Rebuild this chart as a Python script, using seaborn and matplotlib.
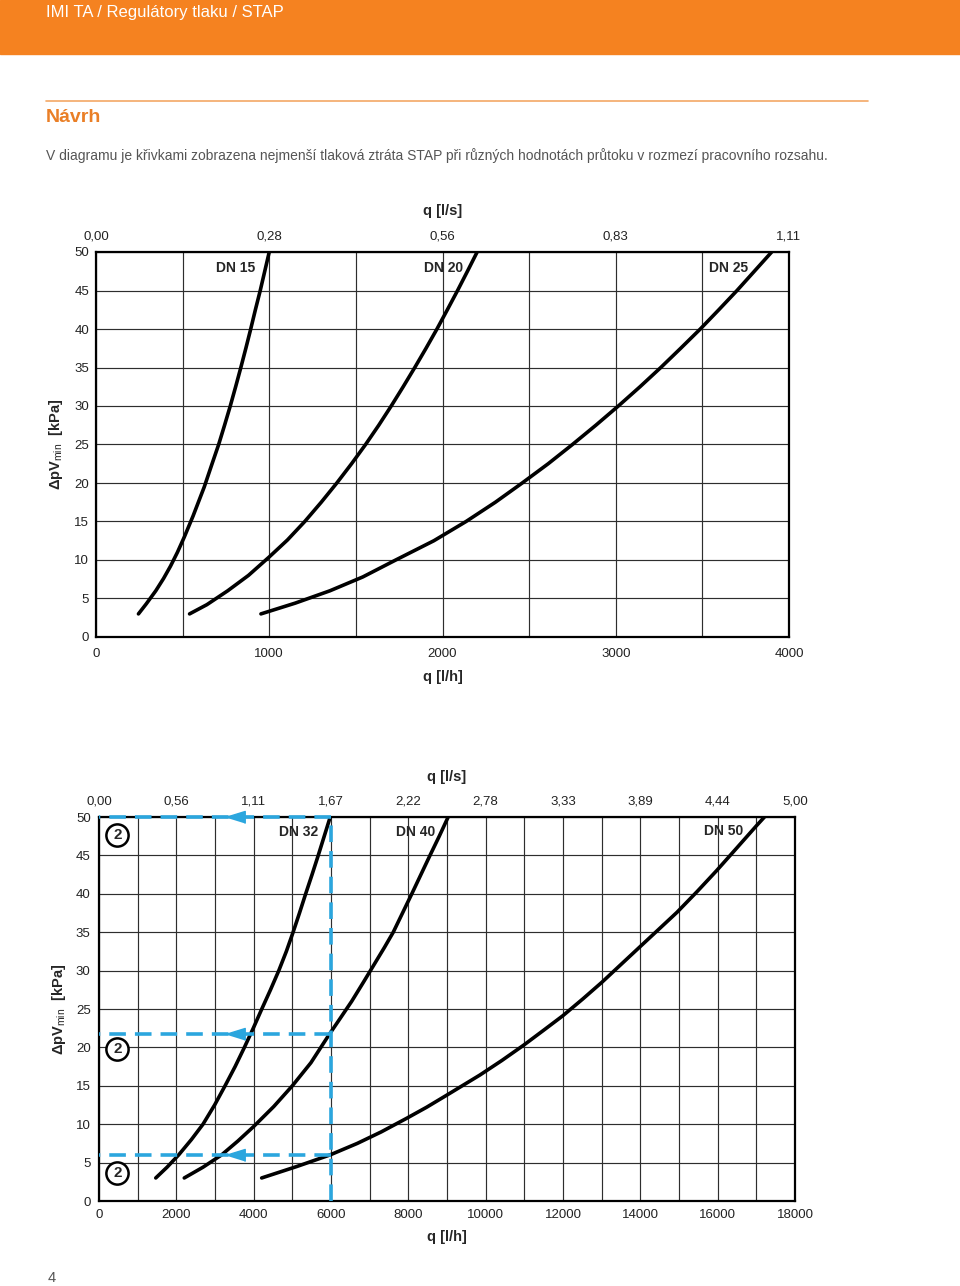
import pandas as pd
import matplotlib.pyplot as plt
import seaborn as sns
from matplotlib.patches import Rectangle
from matplotlib.lines import Line2D
from matplotlib.ticker import MultipleLocator

# Chart 1: STAP DN 15 - DN 25 (q in l/h, dp in kPa)
dn15_q = [245, 290, 345, 390, 430, 470, 510, 560, 625, 670, 708, 742, 775, 806, 836, 865, 893, 920, 948, 974, 1000]
dn15_dp = [3, 4.3, 6, 7.6, 9.2, 11, 13, 15.7, 19.5, 22.5, 25, 27.5, 30, 32.5, 35, 37.5, 40, 42.5, 45, 47.5, 50]
dn20_q = [540, 640, 760, 880, 1000, 1105, 1205, 1300, 1390, 1475, 1556, 1632, 1704, 1773, 1840, 1905, 1968, 2028, 2087, 2144, 2200]
dn20_dp = [3, 4.2, 6, 8, 10.4, 12.6, 15, 17.5, 20, 22.5, 25, 27.5, 30, 32.5, 35, 37.5, 40, 42.5, 45, 47.5, 50]
dn25_q = [952, 1150, 1350, 1540, 1730, 1950, 2136, 2305, 2460, 2610, 2750, 2885, 3015, 3140, 3260, 3375, 3488, 3595, 3700, 3800, 3900]
dn25_dp = [3, 4.4, 6, 7.8, 10, 12.5, 15, 17.5, 20, 22.5, 25, 27.5, 30, 32.5, 35, 37.5, 40, 42.5, 45, 47.5, 50]

# Chart 2: STAP DN 32 - DN 50
dn32_q = [1468, 1760, 2060, 2390, 2690, 2990, 3260, 3520, 3760, 3990, 4210, 4435, 4650, 4845, 5020, 5185, 5345, 5510, 5670, 5825, 5980]
dn32_dp = [3, 4.4, 6, 8, 10, 12.5, 15, 17.5, 20, 22.5, 25, 27.5, 30, 32.5, 35, 37.5, 40, 42.5, 45, 47.5, 50]
dn40_q = [2205, 2690, 3170, 3590, 4000, 4520, 5000, 5480, 5930, 6240, 6535, 6840, 7140, 7380, 7610, 7850, 8090, 8325, 8560, 8800, 9030]
dn40_dp = [3, 4.4, 6, 7.8, 9.7, 12.3, 15, 18, 21.5, 23.8, 26, 28.5, 31, 33, 35, 37.5, 40, 42.5, 45, 47.5, 50]
dn50_q = [4207, 5120, 5975, 6680, 7300, 7950, 8470, 9000, 9850, 10420, 10985, 11490, 11990, 12510, 13010, 13500, 13990, 14460, 14950, 15470, 15970, 16500, 17010, 17210]
dn50_dp = [3, 4.5, 6, 7.5, 9, 10.75, 12.2, 13.8, 16.4, 18.3, 20.3, 22.2, 24.1, 26.3, 28.5, 30.8, 33.1, 35.3, 37.6, 40.3, 43, 46, 48.9, 50]

# tick labels
yticks = [0, 5, 10, 15, 20, 25, 30, 35, 40, 45, 50]
xticks_1 = [0, 1000, 2000, 3000, 4000]
top_labels_1 = ["0,00", "0,28", "0,56", "0,83", "1,11"]
xticks_2 = [0, 2000, 4000, 6000, 8000, 10000, 12000, 14000, 16000, 18000]
top_labels_2 = ["0,00", "0,56", "1,11", "1,67", "2,22", "2,78", "3,33", "3,89", "4,44", "5,00"]

# example reading in chart 2 (blue guide lines)
guide_q = 6000
guide_dp = [50, 21.8, 6]
arrow_q = 3520
marker_q = 473
marker_dp = [47.7, 19.85, 3.7]

ORANGE = "#f58220"
BLUE = "#2ba6de"
GRID = "#2e2e2e"

sns.set_theme(style="white")
plt.rcParams["font.family"] = ["Liberation Sans", "DejaVu Sans"]
plt.rcParams["mathtext.fontset"] = "custom"
plt.rcParams["mathtext.rm"] = "Liberation Sans"
plt.rcParams["mathtext.bf"] = "Liberation Sans:bold"
plt.rcParams["mathtext.it"] = "Liberation Sans:italic"

W, H = 960, 1286
fig = plt.figure(figsize=(W / 100, H / 100), dpi=100)


def fx(px):
    return px / W


def fy(py):
    return 1 - py / H


# header
fig.patches.append(Rectangle((0, fy(54)), 1, 54 / H, transform=fig.transFigure,
                             color=ORANGE, zorder=0))
fig.text(fx(46), fy(12), "IMI TA / Regulátory tlaku / STAP", color="white",
         fontsize=12, va="center", ha="left")
fig.lines.append(Line2D([fx(46), fx(868)], [fy(101), fy(101)], transform=fig.transFigure,
                        color="#f3a866", lw=1.2))
fig.text(fx(46), fy(118), "Návrh", color="#ea7f26", fontsize=14, fontweight="bold",
         va="center", ha="left")
fig.text(fx(46), fy(156),
         "V diagramu je křivkami zobrazena nejmenší tlaková ztráta STAP při různých "
         "hodnotách průtoku v rozmezí pracovního rozsahu.",
         color="#555555", fontsize=10, va="center", ha="left")
fig.text(fx(48), fy(1278), "4", color="#555555", fontsize=10.5, va="center", ha="left")

YLABEL = r"$\mathbf{ΔpV}_{\mathrm{min}}$" + "  [kPa]"


def setup_axes(rect, xmax, minor, xticks, top_labels, pads, top_y):
    ax = fig.add_axes(rect)
    ax.set_xlim(0, xmax)
    ax.set_ylim(0, 50)
    ax.set_xticks(xticks)
    ax.set_yticks(yticks)
    ax.xaxis.set_minor_locator(MultipleLocator(minor))
    ax.yaxis.set_minor_locator(MultipleLocator(5))
    ax.grid(which="both", color=GRID, lw=0.85)
    ax.tick_params(which="both", length=0, labelsize=9.5, colors="#222222")
    ax.tick_params(axis="y", pad=pads[0])
    ax.tick_params(axis="x", pad=pads[1])
    for s in ax.spines.values():
        s.set_color("black")
        s.set_linewidth(1.6)
    top = ax.secondary_xaxis("top")
    top.set_xticks(xticks, labels=top_labels)
    top.tick_params(length=0, labelsize=9.5, pad=pads[2], colors="#222222")
    top.spines["top"].set_visible(False)
    ax.text(0.5, top_y, "q [l/s]", transform=ax.transAxes, fontsize=10.5,
            fontweight="bold", ha="center", va="center")
    return ax


def draw_curves(ax, curves, labels, xlab_y):
    for (q, dp), (name, lx, ly) in zip(curves, labels):
        df = pd.DataFrame({"q": q, "dp": dp})
        sns.lineplot(data=df, x="q", y="dp", ax=ax, color="black", lw=2.6,
                     sort=False, zorder=4)
        ax.text(lx, ly, name, ha="right", va="center", fontsize=10,
                fontweight="bold", zorder=5)
    ax.set_xlabel("q [l/h]", fontsize=10.5, fontweight="bold")
    ax.set_ylabel(YLABEL, fontsize=10.5, fontweight="bold")
    ax.xaxis.set_label_coords(0.5, xlab_y)
    ax.yaxis.set_label_coords(-0.045, 0.5)


# chart 1
ax1 = setup_axes([fx(96), fy(637), 693 / W, 385 / H], 4000, 500, xticks_1,
                 top_labels_1, (5, 8, 6.5), 1.106)
draw_curves(ax1, [(dn15_q, dn15_dp), (dn20_q, dn20_dp), (dn25_q, dn25_dp)],
            [("DN 15", 918, 47.9), ("DN 20", 2118, 47.9), ("DN 25", 3765, 47.9)], -0.085)

# chart 2
ax2 = setup_axes([fx(99), fy(1201), 696 / W, 384 / H], 18000, 1000, xticks_2,
                 top_labels_2, (6, 6, 7), 1.104)
draw_curves(ax2, [(dn32_q, dn32_dp), (dn40_q, dn40_dp), (dn50_q, dn50_dp)],
            [("DN 32", 5663, 48.1), ("DN 40", 8689, 48.1), ("DN 50", 16660, 48.2)], -0.075)

# blue guide lines
dash = (0, (4.6, 2.5))
ax2.plot([guide_q, guide_q], [0, 50], color=BLUE, lw=2.6, ls=dash, zorder=6, clip_on=False)
for lvl in guide_dp:
    ax2.plot([guide_q, 0], [lvl, lvl], color=BLUE, lw=2.6, ls=dash, zorder=6, clip_on=False)
    ax2.plot([arrow_q], [lvl], marker=[(-1, 0), (1, 0.62), (1, -0.62)], ms=14,
             color=BLUE, ls="none", zorder=7, clip_on=False)

for lvl in marker_dp:
    ax2.plot([marker_q], [lvl], marker="o", ms=16, mfc="white", mec="black", mew=1.8,
             ls="none", zorder=7)
    ax2.text(marker_q, lvl, "2", ha="center", va="center", fontsize=11,
             fontweight="bold", zorder=8)

fig.savefig("out.png", dpi=100)
